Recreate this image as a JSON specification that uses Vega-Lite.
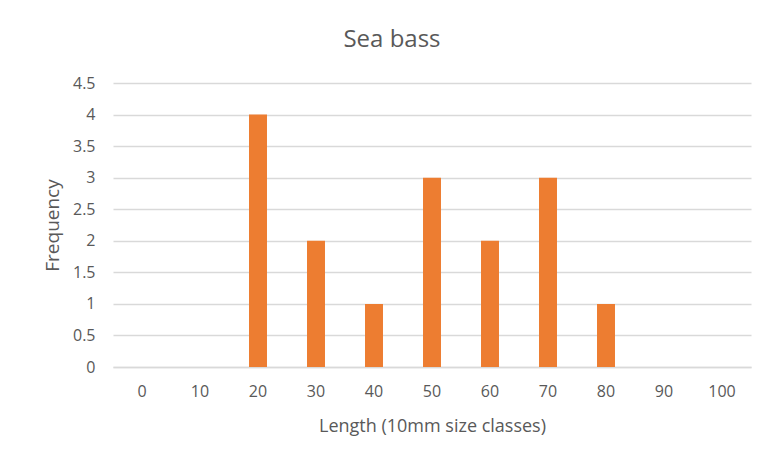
{
  "$schema": "https://vega.github.io/schema/vega-lite/v6.json",
  "width": 638,
  "height": 284,
  "autosize": {"type": "none"},
  "padding": {"left": 113, "top": 83, "right": 11, "bottom": 92},
  "background": "white",
  "title": {
    "text": "Sea bass",
    "anchor": "middle",
    "dx": -40,
    "baseline": "alphabetic",
    "offset": 4,
    "font": "Open Sans",
    "fontSize": 24,
    "fontWeight": "normal",
    "color": "#595959"
  },
  "data": {
    "values": [
      {"length": 0, "frequency": 0},
      {"length": 10, "frequency": 0},
      {"length": 20, "frequency": 4},
      {"length": 30, "frequency": 2},
      {"length": 40, "frequency": 1},
      {"length": 50, "frequency": 3},
      {"length": 60, "frequency": 2},
      {"length": 70, "frequency": 3},
      {"length": 80, "frequency": 1},
      {"length": 90, "frequency": 0},
      {"length": 100, "frequency": 0}
    ]
  },
  "mark": {"type": "bar", "color": "#ED7D31"},
  "encoding": {
    "x": {
      "field": "length",
      "type": "ordinal",
      "sort": "ascending",
      "scale": {"paddingInner": 0.69, "paddingOuter": 0.345},
      "axis": {
        "title": "Length (10mm size classes)",
        "titleFontSize": 18,
        "labelAngle": 0,
        "ticks": false,
        "domain": true,
        "domainColor": "#D9D9D9",
        "domainWidth": 1.3,
        "labelPadding": 16,
        "titlePadding": 18
      }
    },
    "y": {
      "field": "frequency",
      "type": "quantitative",
      "scale": {"domain": [0, 4.5], "nice": false},
      "axis": {
        "title": "Frequency",
        "titleFontSize": 19,
        "values": [0, 0.5, 1, 1.5, 2, 2.5, 3, 3.5, 4, 4.5],
        "format": "~g",
        "ticks": false,
        "domain": false,
        "grid": true,
        "gridColor": "#D9D9D9",
        "gridWidth": 1.3,
        "labelPadding": 18,
        "titlePadding": 10
      }
    }
  },
  "config": {
    "view": {"stroke": null},
    "axis": {
      "labelFont": "Open Sans",
      "labelFontSize": 16,
      "labelColor": "#595959",
      "titleFont": "Open Sans",
      "titleFontWeight": "normal",
      "titleColor": "#595959"
    }
  }
}
